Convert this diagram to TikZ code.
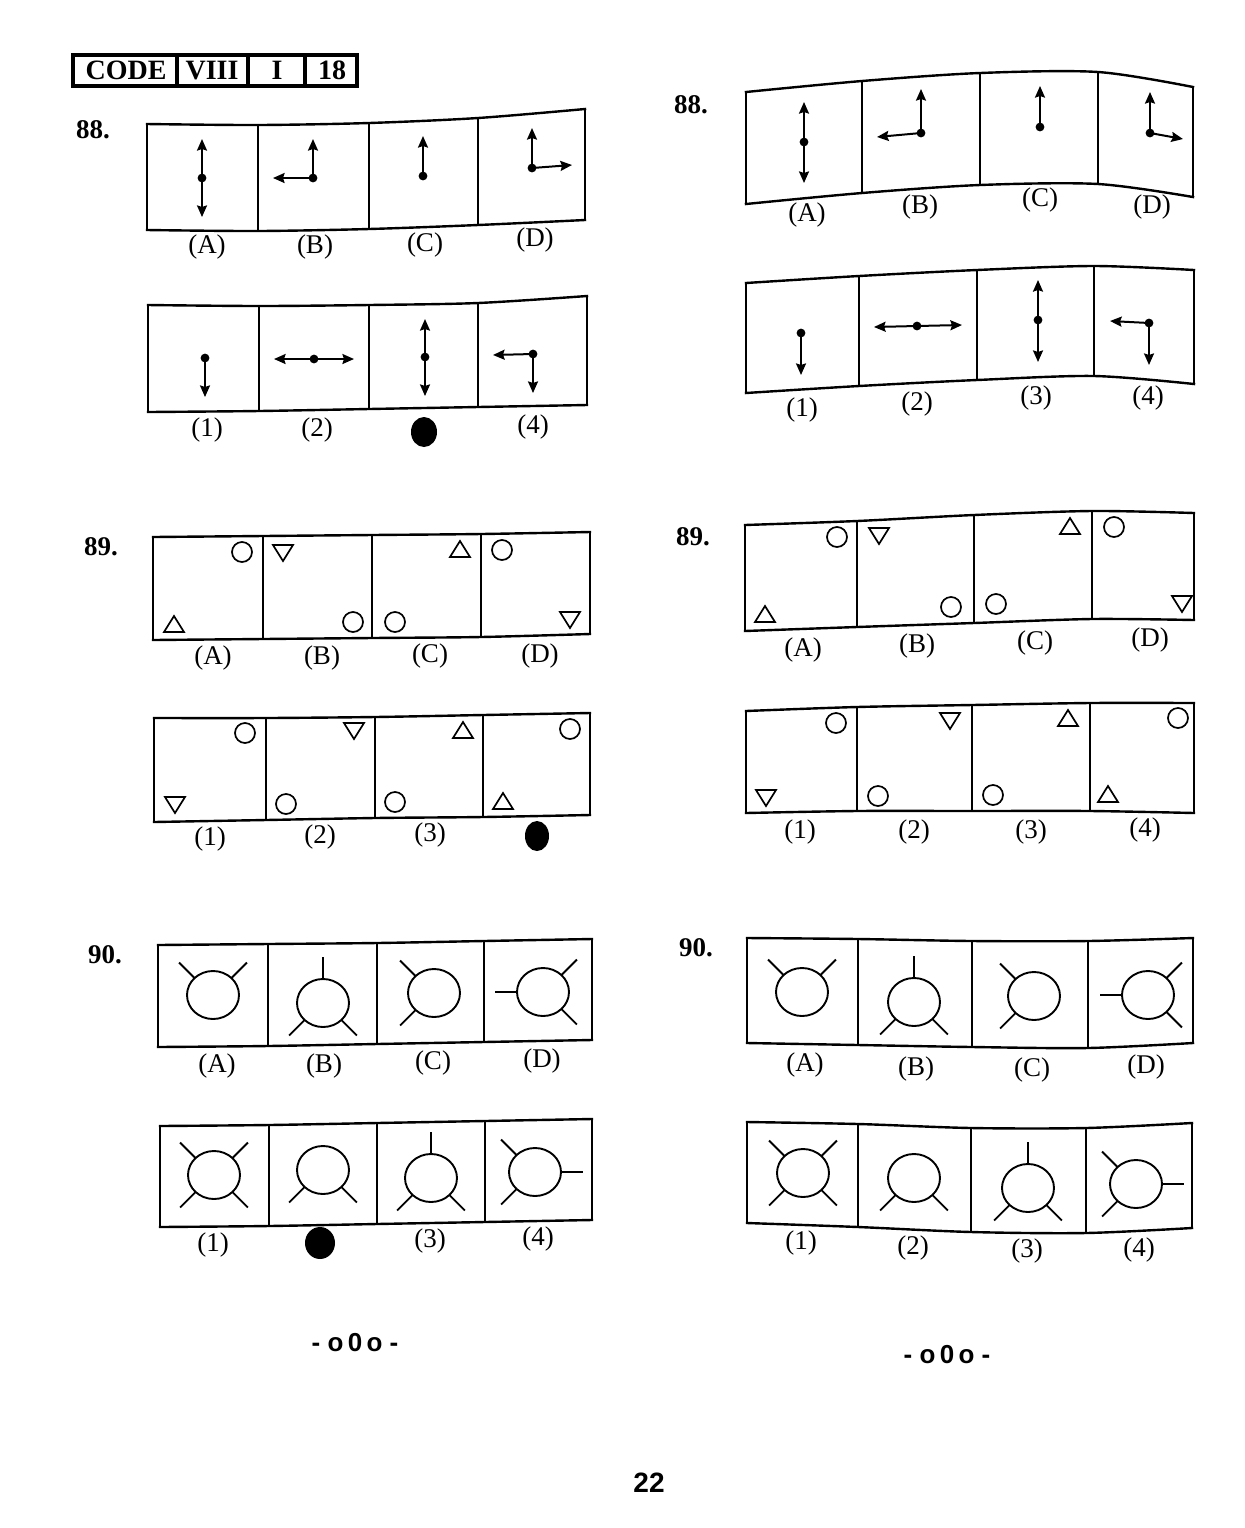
\documentclass[tikz,border=0pt]{standalone}
\usepackage{fontspec}
\setmainfont{Liberation Serif}
\newfontfamily\sansb{Liberation Sans}
\usetikzlibrary{arrows.meta}
\tikzset{
 frame/.style={line width=1.2pt, line cap=rect, line join=miter},
 arr/.style={line width=1pt, -{Stealth[length=5.8pt,width=5pt,inset=0.8pt]}},
 spoke/.style={line width=0.95pt},
 shp/.style={line width=0.85pt},
 lbl/.style={font=\fontsize{13.5}{15}\selectfont, inner sep=0pt},
 qn/.style={font=\bfseries\fontsize{13.5}{15}\selectfont, inner sep=0pt},
 codebox/.style={line width=1.7pt},
 codetxt/.style={font=\bfseries\fontsize{14}{16}\selectfont, inner sep=0pt, anchor=base},
 endmark/.style={font=\sansb\bfseries\fontsize{13}{15}\selectfont, inner sep=0pt},
 pagenum/.style={font=\sansb\bfseries\fontsize{14}{16}\selectfont, inner sep=0pt},
 blob/.style={fill=black},
}
\newcommand{\pdot}[1]{\fill (#1) circle[radius=2.2pt];}
\newcommand{\arrw}[3]{\coordinate (#1s) at (#2); \coordinate (#1e) at (#3); \draw[arr] (#1s) -- (#1e);}
\newcommand{\utri}[1]{\draw[shp] ([shift={(#1)}]-10,7) -- ([shift={(#1)}]10,7) -- ([shift={(#1)}]0,-9) -- cycle;}
\newcommand{\dtri}[1]{\draw[shp] ([shift={(#1)}]-10,-7) -- ([shift={(#1)}]10,-7) -- ([shift={(#1)}]0,9) -- cycle;}
\newcommand{\myCirc}[1]{\draw[shp] (#1) circle[radius=5pt];}
\newcommand{\ring}[2]{\draw[spoke] (#1) ellipse[x radius=13pt,y radius=12pt];
  \foreach \a in {#2}{\draw[spoke] ([shift={(#1)}]\a:13pt and 12pt) -- ++(\a:11pt);}}
\newcommand{\lab}[3]{\node[lbl] (#1) at (#2) {#3};}
\begin{document}
\begin{tikzpicture}[x=0.5pt,y=-0.5pt]
\useasboundingbox[fill=white] (0,0) rectangle (1244,1528);

% ---------- CODE box ----------
\draw[codebox] (73,55) rectangle (357,86);
\foreach \x in {177,248,305} \draw[codebox] (\x,55) -- (\x,86);
\node[codetxt] (code) at (126,79) {CODE};
\node[codetxt] (viii) at (212,79) {VIII};
\node[codetxt] (one) at (277,79) {I};
\node[codetxt] (eighteen) at (332,79) {18};

% ---------- question numbers ----------
\node[qn] (q88l) at (93,130) {88.};
\node[qn] (q88r) at (691,105) {88.};
\node[qn] (q89l) at (101,547) {89.};
\node[qn] (q89r) at (693,537) {89.};
\node[qn] (q90l) at (105,955) {90.};
\node[qn] (q90r) at (696,948) {90.};

% ================= LEFT 88 top =================
\draw[frame] plot[smooth,tension=0.5] coordinates {(147,124) (258,125) (369,123) (478,118) (585,109)};
\draw[frame] plot[smooth,tension=0.5] coordinates {(147,230) (258,231) (369,229) (478,225) (585,220)};
\foreach \x/\t/\b in {147/124/230,258/125/231,369/123/229,478/118/225,585/109/220} \draw[frame] (\x,\t) -- (\x,\b);
\arrw{la1}{202,178}{202,139} \arrw{la2}{202,178}{202,217} \pdot{202,178}
\arrw{lb1}{313,178}{313,139} \arrw{lb2}{313,178}{273,178} \pdot{313,178}
\arrw{lc1}{423,176}{423,136} \pdot{423,176}
\arrw{ld1}{532,168}{532,128} \arrw{ld2}{532,168}{572,165} \pdot{532,168}
\lab{l88A}{207,247}{(A)} \lab{l88B}{315,247}{(B)} \lab{l88C}{425,245}{(C)} \lab{l88D}{535,240}{(D)}

% ================= LEFT 88 bottom =================
\draw[frame] plot[smooth,tension=0.5] coordinates {(148,305) (259,306) (369,305) (478,303) (587,296)};
\draw[frame] plot[smooth,tension=0.5] coordinates {(148,412) (259,411) (369,409) (478,407) (587,405)};
\foreach \x/\t/\b in {148/305/412,259/306/411,369/305/409,478/303/407,587/296/405} \draw[frame] (\x,\t) -- (\x,\b);
\arrw{l1a}{205,358}{205,397} \pdot{205,358}
\arrw{l2a}{314,359}{274,359} \arrw{l2b}{314,359}{354,359} \pdot{314,359}
\arrw{l3a}{425,357}{425,319} \arrw{l3b}{425,357}{425,396} \pdot{425,357}
\arrw{l4a}{533,354}{493,355} \arrw{l4b}{533,354}{533,393} \pdot{533,354}
\lab{l88o1}{207,430}{(1)} \lab{l88o2}{317,430}{(2)} \lab{l88o4}{533,427}{(4)}
\fill[blob] (424,432) ellipse[x radius=6.5pt,y radius=7.5pt];

% ================= LEFT 89 top =================
\draw[frame] plot[smooth,tension=0.5] coordinates {(153,537) (263,536) (372,535) (481,534) (590,532)};
\draw[frame] plot[smooth,tension=0.5] coordinates {(153,640) (263,639) (372,638) (481,637) (590,634)};
\foreach \x/\t/\b in {153/537/640,263/536/639,372/535/638,481/534/637,590/532/634} \draw[frame] (\x,\t) -- (\x,\b);
\myCirc{242,552} \utri{174,625}
\dtri{283,552} \myCirc{353,622}
\utri{460,550} \myCirc{395,622}
\myCirc{502,550} \dtri{570,619}
\lab{l89A}{213,658}{(A)} \lab{l89B}{322,658}{(B)} \lab{l89C}{430,656}{(C)} \lab{l89D}{540,656}{(D)}

% ================= LEFT 89 bottom =================
\draw[frame] plot[smooth,tension=0.5] coordinates {(154,718) (266,718) (375,717) (483,715) (590,713)};
\draw[frame] plot[smooth,tension=0.5] coordinates {(154,822) (266,820) (375,818) (483,817) (590,815)};
\foreach \x/\t/\b in {154/718/822,266/718/820,375/717/818,483/715/817,590/713/815} \draw[frame] (\x,\t) -- (\x,\b);
\myCirc{245,733} \dtri{175,804}
\dtri{354,730} \myCirc{286,804}
\utri{463,731} \myCirc{395,802}
\myCirc{570,729} \utri{503,802}
\lab{l89o1}{210,839}{(1)} \lab{l89o2}{320,837}{(2)} \lab{l89o3}{430,835}{(3)}
\fill[blob] (537,836) ellipse[x radius=6pt,y radius=7.5pt];

% ================= LEFT 90 top =================
\draw[frame] plot[smooth,tension=0.5] coordinates {(158,945) (268,944) (377,943) (484,941) (592,939)};
\draw[frame] plot[smooth,tension=0.5] coordinates {(158,1047) (268,1046) (377,1044) (484,1042) (592,1040)};
\foreach \x/\t/\b in {158/945/1047,268/944/1046,377/943/1044,484/941/1042,592/939/1040} \draw[frame] (\x,\t) -- (\x,\b);
\ring{213,995}{135,45}
\ring{323,1003}{90,225,-45}
\ring{434,993}{135,225}
\ring{543,992}{180,45,-45}
\lab{l90A}{217,1066}{(A)} \lab{l90B}{324,1066}{(B)} \lab{l90C}{433,1063}{(C)} \lab{l90D}{542,1061}{(D)}

% ================= LEFT 90 bottom =================
\draw[frame] plot[smooth,tension=0.5] coordinates {(160,1126) (269,1125) (377,1123) (485,1121) (592,1119)};
\draw[frame] plot[smooth,tension=0.5] coordinates {(160,1227) (269,1226) (377,1224) (485,1222) (592,1220)};
\foreach \x/\t/\b in {160/1126/1227,269/1125/1226,377/1123/1224,485/1121/1222,592/1119/1220} \draw[frame] (\x,\t) -- (\x,\b);
\ring{214,1175}{135,45,225,-45}
\ring{323,1170}{225,-45}
\ring{431,1178}{90,225,-45}
\ring{535,1172}{135,225,0}
\lab{l90o1}{213,1245}{(1)} \lab{l90o3}{430,1241}{(3)} \lab{l90o4}{538,1239}{(4)}
\fill[blob] (320,1243) ellipse[x radius=7.5pt,y radius=8pt];

% ================= RIGHT 88 top =================
\draw[frame] plot[smooth,tension=0.5] coordinates {(746,92) (862,81) (980,73) (1098,72) (1193,87)};
\draw[frame] plot[smooth,tension=0.5] coordinates {(746,204) (862,193) (980,185) (1098,184) (1193,197)};
\foreach \x/\t/\b in {746/92/204,862/81/193,980/73/185,1098/72/184,1193/87/197} \draw[frame] (\x,\t) -- (\x,\b);
\arrw{ra1}{804,142}{804,102} \arrw{ra2}{804,142}{804,183} \pdot{804,142}
\arrw{rb1}{921,133}{921,89} \arrw{rb2}{921,133}{877,137} \pdot{921,133}
\arrw{rc1}{1040,127}{1040,86} \pdot{1040,127}
\arrw{rd1}{1150,133}{1150,92} \arrw{rd2}{1150,133}{1183,139} \pdot{1150,133}
\lab{r88A}{807,215}{(A)} \lab{r88B}{920,207}{(B)} \lab{r88C}{1040,200}{(C)} \lab{r88D}{1152,207}{(D)}

% ================= RIGHT 88 bottom =================
\draw[frame] plot[smooth,tension=0.5] coordinates {(746,283) (859,276) (977,270) (1094,266) (1194,270)};
\draw[frame] plot[smooth,tension=0.5] coordinates {(746,393) (859,386) (977,380) (1094,376) (1194,384)};
\foreach \x/\t/\b in {746/283/393,859/276/386,977/270/380,1094/266/376,1194/270/384} \draw[frame] (\x,\t) -- (\x,\b);
\arrw{r1a}{801,333}{801,375} \pdot{801,333}
\arrw{r2a}{917,326}{874,327} \arrw{r2b}{917,326}{962,325} \pdot{917,326}
\arrw{r3a}{1038,320}{1038,280} \arrw{r3b}{1038,320}{1038,362} \pdot{1038,320}
\arrw{r4a}{1149,323}{1110,321} \arrw{r4b}{1149,323}{1149,365} \pdot{1149,323}
\lab{r88o1}{802,410}{(1)} \lab{r88o2}{917,404}{(2)} \lab{r88o3}{1036,398}{(3)} \lab{r88o4}{1148,398}{(4)}

% ================= RIGHT 89 top =================
\draw[frame] plot[smooth,tension=0.5] coordinates {(745,525) (857,521) (974,515) (1092,511) (1194,513)};
\draw[frame] plot[smooth,tension=0.5] coordinates {(745,631) (857,627) (974,623) (1092,619) (1194,620)};
\foreach \x/\t/\b in {745/525/631,857/521/627,974/515/623,1092/511/619,1194/513/620} \draw[frame] (\x,\t) -- (\x,\b);
\myCirc{837,537} \utri{765,615}
\dtri{879,535} \myCirc{951,607}
\utri{1070,527} \myCirc{996,604}
\myCirc{1114,527} \dtri{1182,603}
\lab{r89A}{803,650}{(A)} \lab{r89B}{917,646}{(B)} \lab{r89C}{1035,643}{(C)} \lab{r89D}{1150,640}{(D)}

% ================= RIGHT 89 bottom =================
\draw[frame] plot[smooth,tension=0.5] coordinates {(746,711) (857,707) (972,705) (1090,703) (1194,703)};
\draw[frame] plot[smooth,tension=0.5] coordinates {(746,813) (857,811) (972,811) (1090,811) (1194,813)};
\foreach \x/\t/\b in {746/711/813,857/707/811,972/705/811,1090/703/811,1194/703/813} \draw[frame] (\x,\t) -- (\x,\b);
\myCirc{836,723} \dtri{766,797}
\dtri{950,720} \myCirc{878,796}
\utri{1068,719} \myCirc{993,795}
\myCirc{1178,718} \utri{1108,795}
\lab{r89o1}{800,832}{(1)} \lab{r89o2}{914,832}{(2)} \lab{r89o3}{1031,832}{(3)} \lab{r89o4}{1145,830}{(4)}

% ================= RIGHT 90 top =================
\draw[frame] plot[smooth,tension=0.5] coordinates {(747,938) (858,939) (972,941) (1088,941) (1193,938)};
\draw[frame] plot[smooth,tension=0.5] coordinates {(747,1043) (858,1045) (972,1047) (1088,1048) (1193,1043)};
\foreach \x/\t/\b in {747/938/1043,858/939/1045,972/941/1047,1088/941/1048,1193/938/1043} \draw[frame] (\x,\t) -- (\x,\b);
\ring{802,992}{135,45}
\ring{914,1002}{90,225,-45}
\ring{1034,996}{135,225}
\ring{1148,995}{180,45,-45}
\lab{r90A}{805,1065}{(A)} \lab{r90B}{916,1069}{(B)} \lab{r90C}{1032,1070}{(C)} \lab{r90D}{1146,1067}{(D)}

% ================= RIGHT 90 bottom =================
\draw[frame] plot[smooth,tension=0.5] coordinates {(747,1122) (858,1124) (971,1128) (1086,1128) (1192,1123)};
\draw[frame] plot[smooth,tension=0.5] coordinates {(747,1223) (858,1227) (971,1232) (1086,1233) (1192,1228)};
\foreach \x/\t/\b in {747/1122/1223,858/1124/1227,971/1128/1232,1086/1128/1233,1192/1123/1228} \draw[frame] (\x,\t) -- (\x,\b);
\ring{803,1173}{135,45,225,-45}
\ring{914,1178}{225,-45}
\ring{1028,1188}{90,225,-45}
\ring{1136,1184}{135,225,0}
\lab{r90o1}{801,1243}{(1)} \lab{r90o2}{913,1248}{(2)} \lab{r90o3}{1027,1251}{(3)} \lab{r90o4}{1139,1250}{(4)}

% ---------- end marks and page number ----------
\node[endmark] (endl) at (355,1343) {-\;o\,0\,o\;-};
\node[endmark] (endr) at (947,1355) {-\;o\,0\,o\;-};
\node[pagenum] (page) at (649,1483) {22};
\end{tikzpicture}
\end{document}
